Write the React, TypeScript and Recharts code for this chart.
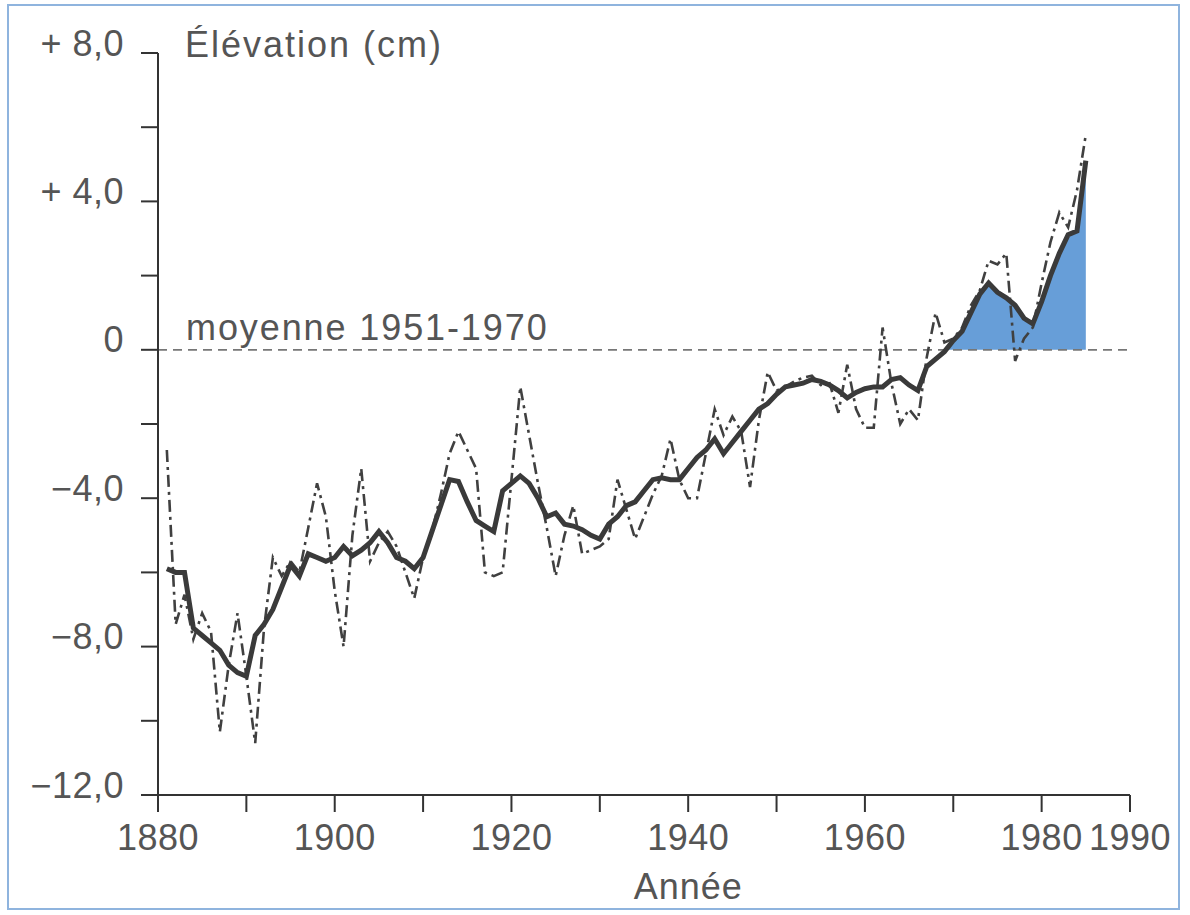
import { Area, ComposedChart, Line, ReferenceLine, XAxis, YAxis } from "recharts";

const years = [
  1881, 1882, 1883, 1884, 1885, 1886, 1887, 1888, 1889, 1890,
  1891, 1892, 1893, 1894, 1895, 1896, 1897, 1898, 1899, 1900,
  1901, 1902, 1903, 1904, 1905, 1906, 1907, 1908, 1909, 1910,
  1911, 1912, 1913, 1914, 1915, 1916, 1917, 1918, 1919, 1920,
  1921, 1922, 1923, 1924, 1925, 1926, 1927, 1928, 1929, 1930,
  1931, 1932, 1933, 1934, 1935, 1936, 1937, 1938, 1939, 1940,
  1941, 1942, 1943, 1944, 1945, 1946, 1947, 1948, 1949, 1950,
  1951, 1952, 1953, 1954, 1955, 1956, 1957, 1958, 1959, 1960,
  1961, 1962, 1963, 1964, 1965, 1966, 1967, 1968, 1969, 1970,
  1971, 1972, 1973, 1974, 1975, 1976, 1977, 1978, 1979, 1980,
  1981, 1982, 1983, 1984, 1985,
];

// valeurs annuelles (trait mixte)
const annualLevel = [
  -2.7, -7.4, -6.6, -7.8, -7.1, -7.6, -10.3, -8.5, -7.1, -8.8,
  -10.6, -7.5, -5.6, -6.1, -5.7, -6.0, -4.8, -3.6, -4.5, -6.5,
  -8.0, -5.0, -3.2, -5.7, -5.2, -4.9, -5.3, -6.0, -6.7, -5.6,
  -4.9, -3.9, -2.8, -2.2, -2.7, -3.2, -6.0, -6.1, -6.0, -3.5,
  -1.0, -2.3, -3.6, -4.8, -6.1, -5.0, -4.2, -5.5, -5.4, -5.3,
  -5.1, -3.5, -4.3, -5.1, -4.5, -3.9, -3.4, -2.4, -3.5, -4.0,
  -4.0, -2.8, -1.6, -2.3, -1.8, -2.2, -3.7, -1.9, -0.6, -1.1,
  -1.0, -0.85, -0.75, -0.7, -0.95, -0.9, -1.7, -0.4, -1.6, -2.1,
  -2.1, 0.6, -0.9, -2.0, -1.6, -1.9, -0.2, 1.0, 0.2, 0.3,
  0.6, 1.2, 1.6, 2.4, 2.3, 2.6, -0.3, 0.3, 0.6, 1.8,
  2.9, 3.7, 3.3, 4.3, 5.8,
];

// moyenne mobile (trait plein)
const meanLevel = [
  -5.9, -6.0, -6.0, -7.5, -7.7, -7.9, -8.1, -8.5, -8.7, -8.8,
  -7.7, -7.4, -7.0, -6.4, -5.8, -6.1, -5.5, -5.6, -5.7, -5.6,
  -5.3, -5.55, -5.4, -5.2, -4.9, -5.2, -5.6, -5.7, -5.9, -5.6,
  -4.9, -4.2, -3.5, -3.55, -4.1, -4.6, -4.75, -4.9, -3.8, -3.6,
  -3.4, -3.6, -4.0, -4.5, -4.4, -4.7, -4.75, -4.85, -5.0, -5.1,
  -4.7, -4.5, -4.2, -4.1, -3.8, -3.5, -3.45, -3.5, -3.5, -3.2,
  -2.9, -2.7, -2.4, -2.8, -2.5, -2.2, -1.9, -1.6, -1.45, -1.2,
  -1.0, -0.95, -0.9, -0.8, -0.85, -0.95, -1.1, -1.3, -1.15, -1.05,
  -1.0, -1.0, -0.8, -0.75, -0.95, -1.1, -0.45, -0.25, -0.05, 0.25,
  0.5, 1.0, 1.5, 1.8, 1.55, 1.4, 1.2, 0.85, 0.7, 1.3,
  2.0, 2.6, 3.1, 3.2, 5.1,
];

const xTicks = [1880, 1890, 1900, 1910, 1920, 1930, 1940, 1950, 1960, 1970, 1980, 1990];
const xLabels = ["1880", "", "1900", "", "1920", "", "1940", "", "1960", "", "1980", "1990"];
const yTicks = [-12, -10, -8, -6, -4, -2, 0, 2, 4, 6, 8];
const yLabels = ["−12,0", "", "−8,0", "", "−4,0", "", "0", "", "+ 4,0", "", "+ 8,0"];

const font = "'Liberation Sans', Arial, Helvetica, sans-serif";
const ink = "#555";

const YTick = (p: any) => {
  const text = yLabels[yTicks.indexOf(p.payload.value)];
  if (!text) return null;
  return (
    <text
      x={p.x}
      y={p.y - 10}
      textAnchor="end"
      dominantBaseline="central"
      fill={ink}
      fontSize={36}
      fontFamily={font}
      letterSpacing={0.5}
    >
      {text}
    </text>
  );
};

export default function App() {
  const data = years.map((year, i) => ({
    year,
    annual: annualLevel[i],
    mean: meanLevel[i],
    above: year >= 1969 ? Math.max(meanLevel[i], 0) : null,
  }));

  return (
    <div style={{ position: "absolute", left: 0, top: 0, width: 1190, height: 915, background: "#fff" }}>
      <div
        style={{
          position: "absolute",
          left: 7,
          top: 4,
          width: 1173,
          height: 906,
          border: "2px solid #8fb4de",
          boxSizing: "border-box",
        }}
      />
      <ComposedChart
        width={1190}
        height={915}
        data={data}
        margin={{ top: 53, right: 60, bottom: 0, left: 0 }}
        style={{ position: "absolute", left: 0, top: 0 }}
      >
        <XAxis
          dataKey="year"
          type="number"
          domain={[1880, 1990]}
          ticks={xTicks}
          interval={0}
          tickFormatter={(v) => xLabels[xTicks.indexOf(v)] ?? ""}
          height={120}
          tickSize={17}
          tickMargin={12}
          stroke="#333"
          strokeWidth={2}
          tick={{ fill: ink, fontSize: 36, fontFamily: font, letterSpacing: 0.5 }}
          label={(p: any) => (
            <text
              x={p.viewBox.x + (p.viewBox.width * 60) / 110}
              y={p.viewBox.y + 104}
              textAnchor="middle"
              fill={ink}
              fontSize={36}
              fontFamily={font}
              letterSpacing={1}
            >
              Année
            </text>
          )}
        />
        <YAxis
          type="number"
          domain={[-12, 8]}
          ticks={yTicks}
          interval={0}
          width={158}
          tickSize={17}
          tickMargin={17}
          stroke="#333"
          strokeWidth={2}
          tick={<YTick />}
        />
        <Area
          dataKey="above"
          type="linear"
          baseValue={0}
          fill="#679ed8"
          fillOpacity={1}
          stroke="none"
          isAnimationActive={false}
        />
        <ReferenceLine
          y={0}
          stroke="#777"
          strokeWidth={1.8}
          strokeDasharray="9 6"
          label={(p: any) => (
            <text
              x={p.viewBox.x + 28}
              y={p.viewBox.y - 10}
              fill={ink}
              fontSize={36}
              fontFamily={font}
              letterSpacing={1.9}
            >
              moyenne 1951-1970
            </text>
          )}
        />
        <ReferenceLine
          y={8}
          stroke="none"
          label={(p: any) => (
            <text
              x={p.viewBox.x + 27}
              y={p.viewBox.y + 4}
              fill={ink}
              fontSize={36}
              fontFamily={font}
              letterSpacing={2}
            >
              Élévation (cm)
            </text>
          )}
        />
        <Line
          dataKey="annual"
          type="linear"
          stroke="#404040"
          strokeWidth={2.6}
          strokeDasharray="12 5 3 5"
          dot={false}
          isAnimationActive={false}
        />
        <Line
          dataKey="mean"
          type="linear"
          stroke="#3a3a3a"
          strokeWidth={5}
          dot={false}
          isAnimationActive={false}
        />
      </ComposedChart>
    </div>
  );
}
